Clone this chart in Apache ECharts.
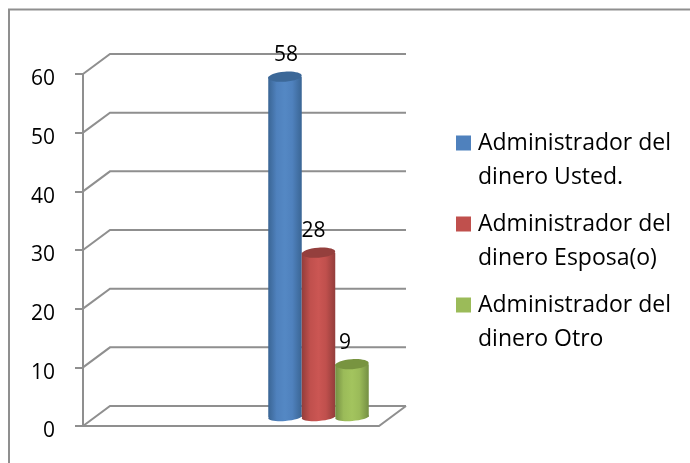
<!DOCTYPE html>
<html><head><meta charset="utf-8">
<style>html,body{margin:0;padding:0;background:#fff}#c{width:690px;height:463px}</style>
<script src="https://cdn.jsdelivr.net/npm/echarts@6/dist/echarts.min.js"></script>
</head><body><div id="c"></div>
<script>
const categories = ['', ' '];
const usted = [null, 58];
const esposa = [null, 28];
const otro = [null, 9];
const yTicks = [0, 10, 20, 30, 40, 50, 60];
const seriesNames = ['Administrador del\ndinero Usted.', 'Administrador del\ndinero Esposa(o)', 'Administrador del\ndinero Otro'];

const FONT = '"Open Sans", Lato, sans-serif';
const GRAY = '#8f8f8f';
const DX = 27, DY = 20;          // depth of the 3D box
const BAR_W = 33.5, RY = 5, LIFT = 9;

const palette = [
  {main:'#4f81bd', edge:'#3a6594', light:'#5488c4', top:'#3c6898'},
  {main:'#c0504d', edge:'#933d3b', light:'#cb5653', top:'#943f3d'},
  {main:'#9bbb59', edge:'#748f43', light:'#a3c45e', top:'#789440'}
];

function cylinder(idx, labelDx) {
  return function (params, api) {
    if (api.value(1) == null || isNaN(api.value(1))) return;
    const p = palette[idx];
    const top0 = api.coord([api.value(0), api.value(1)]);
    const base0 = api.coord([api.value(0), 0]);
    const cx = top0[0] + DX / 2 + (idx - 1) * BAR_W;
    const yT = top0[1] - LIFT, yB = base0[1] - LIFT;
    const l = cx - BAR_W / 2;
    const grad = {type:'linear',x:0,y:0,x2:1,y2:0,colorStops:[
      {offset:0,color:p.edge},{offset:.25,color:p.main},{offset:.5,color:p.light},
      {offset:.72,color:p.main},{offset:1,color:p.edge}]};
    const rot = 0.07;
    return {type:'group',children:[
      {type:'ellipse',shape:{cx:cx,cy:yB,rx:BAR_W/2,ry:RY-1},rotation:rot,originX:cx,originY:yB,style:{fill:grad}},
      {type:'rect',shape:{x:l,y:yT,width:BAR_W,height:yB-yT},style:{fill:grad}},
      {type:'ellipse',shape:{cx:cx,cy:yT,rx:BAR_W/2,ry:RY},rotation:rot,originX:cx,originY:yT,style:{fill:p.top}},
      {type:'text',x:cx+labelDx,y:yT-21.5,style:{text:String(api.value(1)),fill:'#000',font:'21px '+FONT,align:'center',verticalAlign:'middle'}}
    ]};
  };
}

function wallItem(params, api) {
  const v = api.value(0);
  const cs = params.coordSys;
  const y = api.coord([0, v])[1];
  const x0 = cs.x, x1 = cs.x + cs.width;
  const style = {stroke:GRAY,lineWidth:2,fill:null};
  const kids = [
    {type:'polyline',shape:{points:[[x0,y],[x0+DX,y-DY],[x1+DX,y-DY]]},style:style}
  ];
  if (v === 0) kids.push({type:'polyline',shape:{points:[[x0,y],[x1,y],[x1+DX,y-DY]]},style:style});
  return {type:'group',children:kids};
}

function seriesFor(idx, vals, dx) {
  return {type:'custom',name:seriesNames[idx],z:3,coordinateSystem:'cartesian2d',clip:false,
    renderItem:cylinder(idx,dx),itemStyle:{color:palette[idx].main},
    encode:{x:0,y:1},
    data:categories.map((c,i)=>[i,vals[i]])};
}

const chart = echarts.init(document.getElementById('c'),null,{renderer:'canvas'});
chart.setOption({
  animation:false,
  backgroundColor:'#fff',
  textStyle:{fontFamily:FONT},
  graphic:[{type:'rect',z:-1,shape:{x:9,y:9.5,width:690,height:470},style:{fill:'none',stroke:GRAY,lineWidth:2}}],
  grid:{left:83,top:74,width:296,height:352,containLabel:false},
  xAxis:{type:'category',data:categories,axisLine:{show:false},axisTick:{show:false},axisLabel:{show:false}},
  yAxis:{type:'value',min:0,max:60,interval:10,
    axisLine:{show:true,lineStyle:{color:GRAY,width:2}},
    axisTick:{show:true,length:8,lineStyle:{color:GRAY,width:2}},
    splitLine:{show:false},
    axisLabel:{color:'#000',fontSize:21,fontFamily:FONT,margin:28,verticalAlign:'top',lineHeight:11}},
  legend:{orient:'vertical',left:451,top:121,itemGap:13,itemWidth:15,itemHeight:49,
    icon:'path://M0 0H15V15H0ZM0 49H0V49H0Z',
    textStyle:{fontSize:23,lineHeight:34,color:'#000',fontFamily:FONT,padding:[0,0,0,2]},
    data:seriesNames},
  series:[
    {type:'custom',name:'_walls',z:1,silent:true,coordinateSystem:'cartesian2d',clip:false,renderItem:wallItem,encode:{y:0},data:yTicks.map(v=>[v])},
    seriesFor(0,usted,1),seriesFor(1,esposa,-5),seriesFor(2,otro,-7)
  ]
});
</script></body></html>
